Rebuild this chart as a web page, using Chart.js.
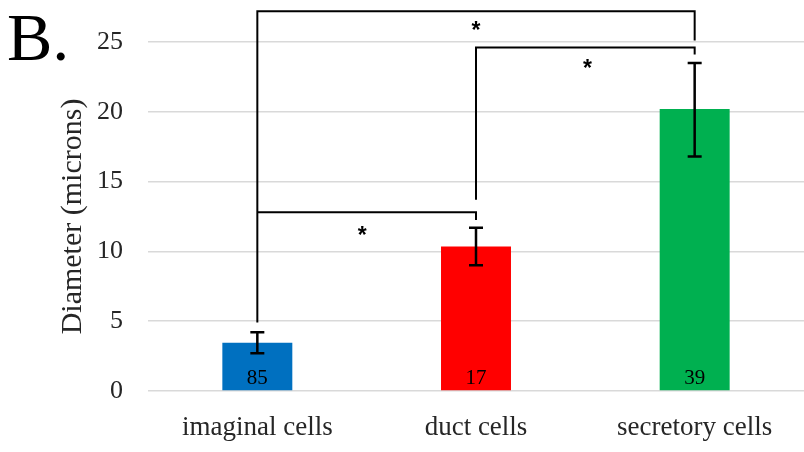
<!DOCTYPE html>
<html>
<head>
<meta charset="utf-8">
<script src="https://cdn.jsdelivr.net/npm/chart.js@4/dist/chart.umd.min.js"></script>
<style>
  body { margin: 0; background: #fff; }
  #wrap { width: 804px; height: 452px; position: relative; }
</style>
</head>
<body>
<div id="wrap"><canvas id="bar-chartcanvas"></canvas></div>
<script>
// data
var categories = ["imaginal cells", "duct cells", "secretory cells"];
var diameters = [3.45, 10.35, 20.2];
var errLow = [2.7, 9.0, 16.8];
var errHigh = [4.2, 11.7, 23.5];
var counts = ["85", "17", "39"];
var barColors = ["#0070c0", "#ff0000", "#00b050"];
var yTicks = [0, 5, 10, 15, 20, 25];

// significance brackets (category index from/to, value of top line, value where each end stops)
var bracketFrom = [0, 1, 0];
var bracketTo = [2, 2, 1];
var bracketTop = [27.2, 24.6, 12.8];
var bracketLeftEnd = [4.9, 13.7, 12.8];
var bracketRightEnd = [25.1, 24.1, 12.25];
var starX = [1, 1.51, 0.48];
var starY = [26.1, 23.4, 11.4];

var serif = "'Liberation Serif', 'Times New Roman', serif";

var extras = {
	id: "extras",
	afterDatasetsDraw: function(chart) {
		var c = chart.ctx;
		var x = chart.scales.x, y = chart.scales.y;
		var meta = chart.getDatasetMeta(0);
		c.save();

		// counts inside bars
		c.fillStyle = "#000";
		c.font = "21px " + serif;
		c.textAlign = "center";
		c.textBaseline = "middle";
		meta.data.forEach(function(bar, i) {
			c.fillText(counts[i], bar.x, y.getPixelForValue(0) - 13);
		});

		// error bars
		c.strokeStyle = "#000";
		c.lineWidth = 2.5;
		meta.data.forEach(function(bar, i) {
			var yl = y.getPixelForValue(errLow[i]);
			var yh = y.getPixelForValue(errHigh[i]);
			c.beginPath();
			c.moveTo(bar.x, yl); c.lineTo(bar.x, yh);
			c.moveTo(bar.x - 7, yl); c.lineTo(bar.x + 7, yl);
			c.moveTo(bar.x - 7, yh); c.lineTo(bar.x + 7, yh);
			c.stroke();
		});

		// brackets
		c.lineWidth = 2;
		for (var k = 0; k < bracketFrom.length; k++) {
			var x1 = x.getPixelForValue(bracketFrom[k]);
			var x2 = x.getPixelForValue(bracketTo[k]);
			var yt = y.getPixelForValue(bracketTop[k]);
			c.beginPath();
			c.moveTo(x1, y.getPixelForValue(bracketLeftEnd[k]));
			c.lineTo(x1, yt);
			c.lineTo(x2, yt);
			c.lineTo(x2, y.getPixelForValue(bracketRightEnd[k]));
			c.stroke();
		}

		// stars
		c.font = "bold 23px 'Liberation Sans', Arial, sans-serif";
		c.textBaseline = "middle";
		for (var s = 0; s < starX.length; s++) {
			c.fillText("*", x.getPixelForValue(starX[s]), y.getPixelForValue(starY[s]) + 5);
		}

		// panel letter
		c.font = "68px " + serif;
		c.textAlign = "left";
		c.textBaseline = "alphabetic";
		c.fillText("B.", 7, 60);
		c.restore();
	}
};

var ctx = document.getElementById("bar-chartcanvas");

var data = {
	labels: categories,
	datasets: [
		{
			data: diameters,
			backgroundColor: barColors,
			borderWidth: 0,
			barPercentage: 0.32,
			categoryPercentage: 1
		}
	]
};

var options = {
	responsive: true,
	maintainAspectRatio: false,
	animation: false,
	layout: { padding: { top: 42, left: 40, right: 0, bottom: 0 } },
	plugins: {
		legend: { display: false },
		tooltip: { enabled: false }
	},
	scales: {
		x: {
			grid: { display: false },
			border: { display: false },
			ticks: { color: "#262626", font: { family: serif, size: 27 }, padding: 13, maxRotation: 0 },
			afterFit: function(scale) { scale.height = 61; }
		},
		y: {
			min: 0,
			max: 25,
			afterBuildTicks: function(scale) {
				scale.ticks = yTicks.map(function(v) { return { value: v }; });
			},
			grid: { color: "#d9d9d9", lineWidth: 1.5, drawTicks: false },
			border: { display: false },
			ticks: { color: "#262626", font: { family: serif, size: 26 }, padding: 25 },
			title: {
				display: true,
				text: "Diameter (microns)",
				color: "#262626",
				font: { family: serif, size: 30 },
				padding: { top: 15 }
			},
			afterFit: function(scale) { scale.width = 108; }
		}
	}
};

var chart = new Chart(ctx, {
	type: "bar",
	data: data,
	options: options,
	plugins: [extras]
});
</script>
</body>
</html>
